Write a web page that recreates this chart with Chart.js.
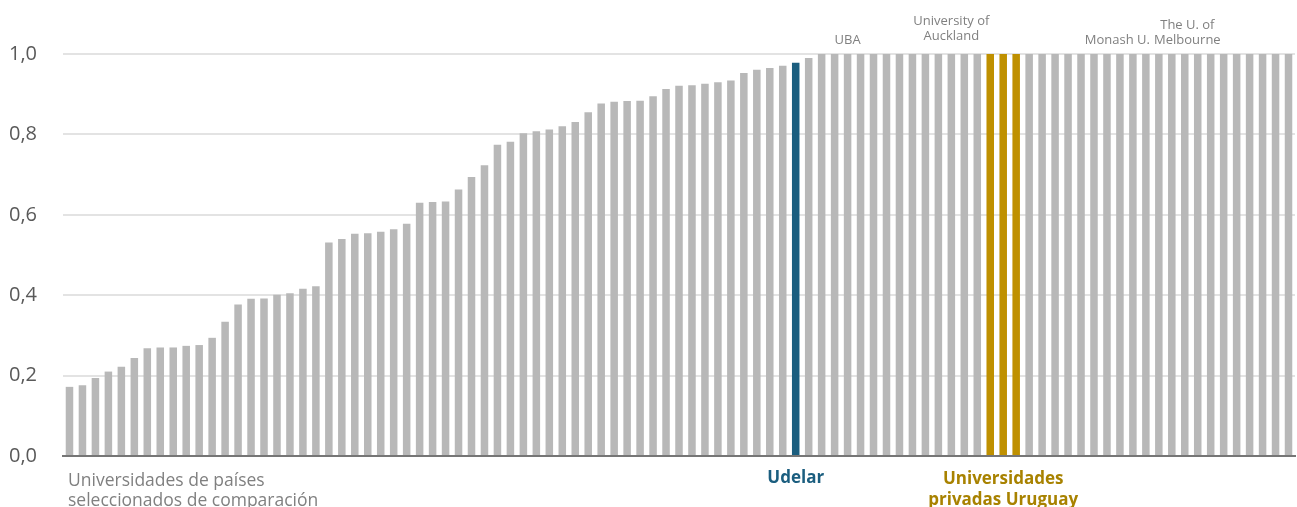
<!DOCTYPE html>
<html>
<head>
<meta charset="utf-8">
<script src="https://cdn.jsdelivr.net/npm/chart.js@4"></script>
<style>
  html, body { margin: 0; padding: 0; background: #fff; }
  #wrap { width: 1297px; height: 507px; }
</style>
</head>
<body>
<div id="wrap"><canvas id="myChart" width="1297" height="507"></canvas></div>
<script>
// values, sorted low to high
var values = [
  0.172, 0.176, 0.194, 0.210, 0.222, 0.244, 0.268, 0.270, 0.270, 0.274,
  0.276, 0.294, 0.334, 0.377, 0.391, 0.392, 0.401, 0.405, 0.416, 0.422,
  0.531, 0.540, 0.553, 0.554, 0.558, 0.564, 0.578, 0.630, 0.632, 0.633,
  0.663, 0.694, 0.723, 0.774, 0.782, 0.803, 0.808, 0.812, 0.820, 0.831,
  0.855, 0.877, 0.881, 0.883, 0.884, 0.895, 0.913, 0.921, 0.922, 0.926,
  0.930, 0.934, 0.953, 0.961, 0.965, 0.971, 0.978, 0.990, 1.0, 1.0,
  1.0, 1.0, 1.0, 1.0, 1.0, 1.0, 1.0, 1.0, 1.0, 1.0,
  1.0, 1.0, 1.0, 1.0, 1.0, 1.0, 1.0, 1.0, 1.0, 1.0,
  1.0, 1.0, 1.0, 1.0, 1.0, 1.0, 1.0, 1.0, 1.0, 1.0,
  1.0, 1.0, 1.0, 1.0, 1.0
];

// named universities (index in the sorted list)
var udelarIdx = [56];
var privadasIdx = [71, 72, 73];
var topNames = [
  { at: 60, lines: ["UBA"] },
  { at: 68, lines: ["University of", "Auckland"] },
  { at: 80.8, lines: ["Monash U."] },
  { at: 86.2, lines: ["The U. of", "Melbourne"] }
];

var yTicks = [0, 0.2, 0.4, 0.6, 0.8, 1.0];

var categories = values.map(function (v, i) { return "U" + (i + 1); });
categories[56] = "Udelar";
categories[60] = "UBA";
categories[68] = "University of Auckland";

var GRAY = "#b8b8b8";
var BLUE = "#1b5e7f";
var GOLD = "#bf9000";

var colors = values.map(function (v, i) {
  if (udelarIdx.indexOf(i) >= 0) return BLUE;
  if (privadasIdx.indexOf(i) >= 0) return GOLD;
  return GRAY;
});

var FONT = "'Open Sans', 'Noto Sans', sans-serif";

// draws the names above and the group captions below the bars
var textPlugin = {
  id: "texts",
  afterDraw: function (chart) {
    var ctx = chart.ctx;
    var x = chart.scales.x;
    var top = chart.chartArea.top;
    var bottom = chart.chartArea.bottom;
    ctx.save();
    ctx.textBaseline = "middle";

    // top names
    ctx.font = "13px " + FONT;
    ctx.fillStyle = "#808080";
    ctx.textAlign = "center";
    topNames.forEach(function (t) {
      var px = x.getPixelForValue(t.at);
      var n = t.lines.length;
      t.lines.forEach(function (line, k) {
        var yy = top - 14 - (n - 1 - k) * 15;
        if (n == 2 && t.at == 68) yy -= 4;
        ctx.fillText(line, px, yy);
      });
    });

    // left caption
    ctx.font = "17.5px " + FONT;
    ctx.fillStyle = "#808080";
    ctx.textAlign = "left";
    ctx.fillText("Universidades de países", x.left + 5, bottom + 25);
    ctx.fillText("seleccionados de comparación", x.left + 5, bottom + 45);

    // Udelar
    ctx.font = "bold 17px " + FONT;
    ctx.fillStyle = BLUE;
    ctx.textAlign = "center";
    ctx.fillText("Udelar", x.getPixelForValue(udelarIdx[0]), bottom + 22);

    // private universities
    ctx.fillStyle = "#a88200";
    var pm = x.getPixelForValue(privadasIdx[1]);
    ctx.fillText("Universidades", pm, bottom + 23);
    ctx.fillText("privadas Uruguay", pm, bottom + 44);
    ctx.restore();
  }
};

var myChart = document.getElementById("myChart").getContext("2d");
var chart = new Chart(myChart, {
  type: "bar",
  data: {
    labels: categories,
    datasets: [
      {
        data: values,
        backgroundColor: colors,
        borderWidth: 0,
        categoryPercentage: 1.0,
        barPercentage: 0.58,
      },
    ],
  },
  options: {
    responsive: false,
    animation: false,
    layout: { padding: { top: 54, right: 2, bottom: 43, left: 0 } },
    plugins: {
      legend: { display: false },
      tooltip: { enabled: false },
    },
    scales: {
      x: {
        ticks: { display: false },
        grid: { display: false },
        border: { display: true, color: "#767676", width: 2 },
      },
      y: {
        min: 0,
        max: 1,
        afterBuildTicks: function (scale) {
          scale.ticks = yTicks.map(function (v) { return { value: v }; });
        },
        afterFit: function (scale) { scale.width = 63; },
        ticks: {
          padding: 26,
          color: "#595959",
          font: { family: FONT, size: 20 },
          callback: function (v) { return v.toFixed(1).replace(".", ","); },
        },
        grid: { color: "#e3e3e3", lineWidth: 2, drawTicks: false },
        border: { display: false },
      },
    },
  },
  plugins: [textPlugin],
});
</script>
</body>
</html>
